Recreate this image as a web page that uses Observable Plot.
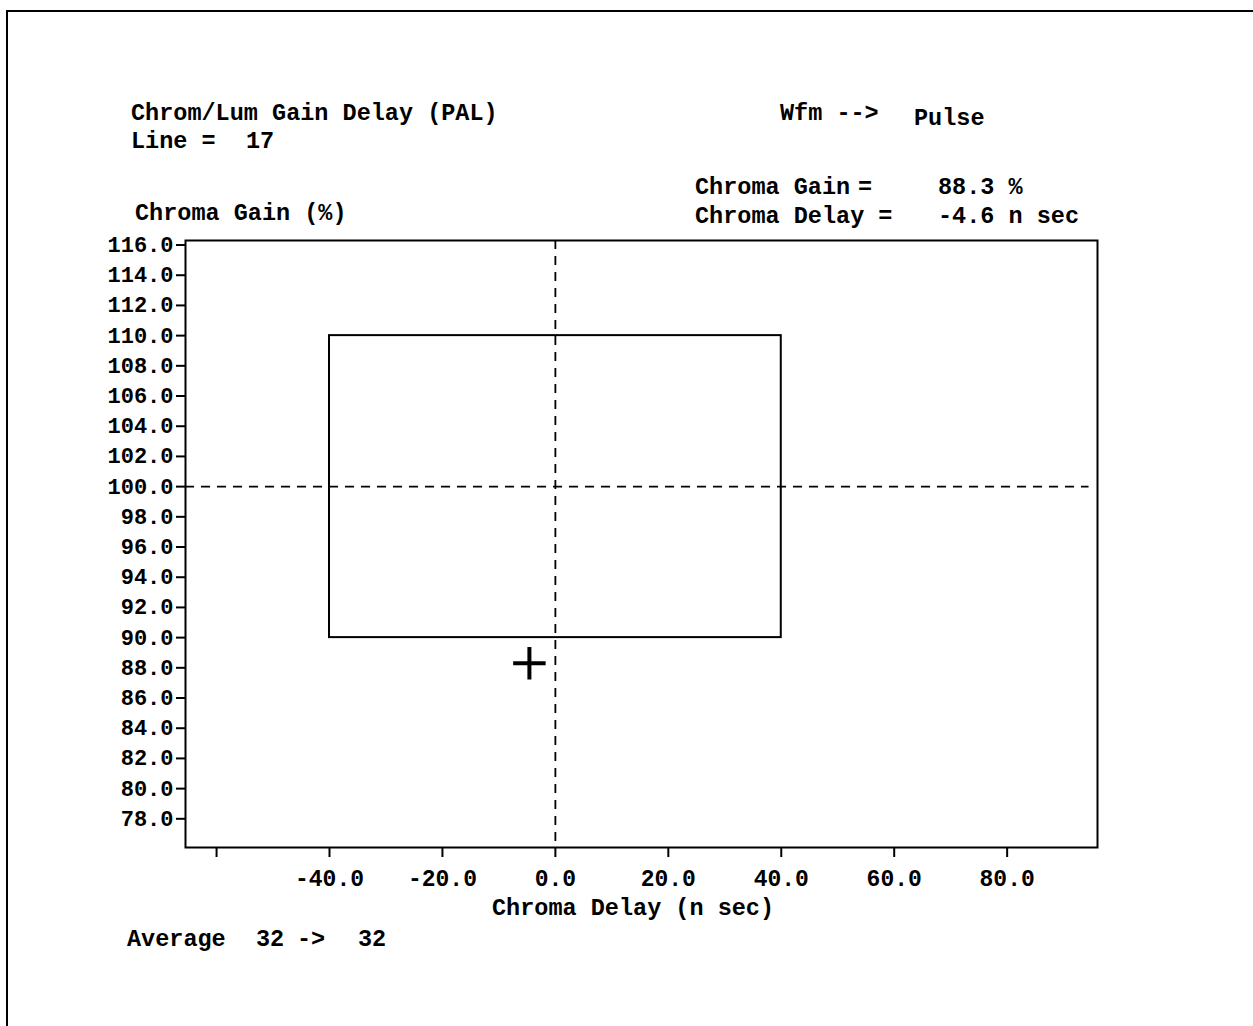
<!DOCTYPE html>
<html>
<head>
<meta charset="utf-8">
<script src="https://cdn.jsdelivr.net/npm/d3@7"></script>
<script src="https://cdn.jsdelivr.net/npm/@observablehq/plot@0.6"></script>
<style>
  html, body { margin: 0; padding: 0; background: #fff; }
  #page { position: relative; width: 1253px; height: 1026px; overflow: hidden; background: #fff; }
  #page svg { position: absolute; left: 0; top: 0; }
  .t { font-family: "Liberation Mono", "DejaVu Sans Mono", monospace; font-weight: bold; font-size: 23.5px; fill: #000; white-space: pre; }
</style>
</head>
<body>
<div id="page"></div>
<script>
// ---- data ----
const xTicks = [-60, -40, -20, 0, 20, 40, 60, 80];
const xTickLabels = ["", "-40.0", "-20.0", "0.0", "20.0", "40.0", "60.0", "80.0"];
const yTicks = [78, 80, 82, 84, 86, 88, 90, 92, 94, 96, 98, 100, 102, 104, 106, 108, 110, 112, 114, 116];
const yTickLabels = ["78.0", "80.0", "82.0", "84.0", "86.0", "88.0", "90.0", "92.0", "94.0", "96.0", "98.0",
  "100.0", "102.0", "104.0", "106.0", "108.0", "110.0", "112.0", "114.0", "116.0"];
const xDomain = [-65.5, 96];
const yDomain = [76.1, 116.3];
const boxDelay = [-40, 40];     // limit box, chroma delay (n sec)
const boxGain = [90, 110];      // limit box, chroma gain (%)
const refDelay = [0];
const refGain = [100];
const refGainEnd = [94.5];
const measuredDelay = [-4.6];
const measuredGain = [88.3];

const box = [{x1: boxDelay[0], x2: boxDelay[1], y1: boxGain[0], y2: boxGain[1]}];
const measured = measuredDelay.map((d, i) => ({delay: d, gain: measuredGain[i]}));
const hRef = refGain.map((g, i) => ({y: g, x1: xDomain[0], x2: refGainEnd[i]}));

const chart = Plot.plot({
  width: 1253,
  height: 1026,
  marginLeft: 185,
  marginTop: 240,
  marginRight: 156,
  marginBottom: 179,
  style: {fontFamily: "'Liberation Mono', monospace", fontSize: "22px", fontWeight: "bold", color: "#000", background: "transparent", overflow: "visible"},
  x: {domain: xDomain, label: null},
  y: {domain: yDomain, label: null},
  marks: [
    Plot.frame({stroke: "#000", strokeWidth: 2}),
    Plot.rect(box, {x1: "x1", x2: "x2", y1: "y1", y2: "y2", fill: "none", stroke: "#000", strokeWidth: 2}),
    Plot.ruleX(refDelay, {x: d => d, stroke: "#000", strokeWidth: 1.8, strokeDasharray: "9,7"}),
    Plot.ruleY(hRef, {y: "y", x1: "x1", x2: "x2", stroke: "#000", strokeWidth: 1.8, strokeDasharray: "9,7"}),
    Plot.dot(measured, {x: "delay", y: "gain", symbol: "plus", r: 10.5, stroke: "#000", strokeWidth: 4}),
    Plot.axisX({ticks: xTicks, tickFormat: d => xTickLabels[xTicks.indexOf(d)], tickSize: 10, tickPadding: 12,
      strokeWidth: 2, fontSize: 23, fontWeight: "bold", label: null}),
    Plot.axisY({ticks: yTicks, tickFormat: d => yTickLabels[yTicks.indexOf(d)], tickSize: 9, tickPadding: 3,
      strokeWidth: 2, fontSize: 22, fontWeight: "bold", label: null})
  ]
});

const page = document.getElementById("page");
page.appendChild(chart);

// ---- annotation layer (real text) ----
const texts = [
  {s: "Chrom/Lum Gain Delay (PAL)", x: 131, y: 120},
  {s: "Line =", x: 131, y: 148},
  {s: "17", x: 246, y: 148},
  {s: "Wfm -->", x: 780, y: 120},
  {s: "Pulse", x: 914, y: 125},
  {s: "Chroma Gain", x: 695, y: 194},
  {s: "=", x: 858, y: 194},
  {s: "88.3 %", x: 938, y: 194},
  {s: "Chroma Delay =", x: 695, y: 223},
  {s: "-4.6 n sec", x: 938, y: 223},
  {s: "Chroma Gain (%)", x: 135, y: 220},
  {s: "Chroma Delay (n sec)", x: 492, y: 915},
  {s: "Average", x: 127, y: 946},
  {s: "32", x: 256, y: 946},
  {s: "->", x: 297, y: 946},
  {s: "32", x: 358, y: 946}
];
const ns = "http://www.w3.org/2000/svg";
const ann = document.createElementNS(ns, "svg");
ann.setAttribute("width", 1253);
ann.setAttribute("height", 1026);
ann.setAttribute("viewBox", "0 0 1253 1026");
// page border (top and left edges of the scanned sheet)
const border = document.createElementNS(ns, "path");
border.setAttribute("d", "M7,1026 V11 H1253");
border.setAttribute("fill", "none");
border.setAttribute("stroke", "#000");
border.setAttribute("stroke-width", "2");
ann.appendChild(border);
for (const t of texts) {
  const el = document.createElementNS(ns, "text");
  el.setAttribute("class", "t");
  el.setAttribute("x", t.x);
  el.setAttribute("y", t.y);
  el.setAttribute("xml:space", "preserve");
  el.textContent = t.s;
  ann.appendChild(el);
}
page.appendChild(ann);
</script>
</body>
</html>
